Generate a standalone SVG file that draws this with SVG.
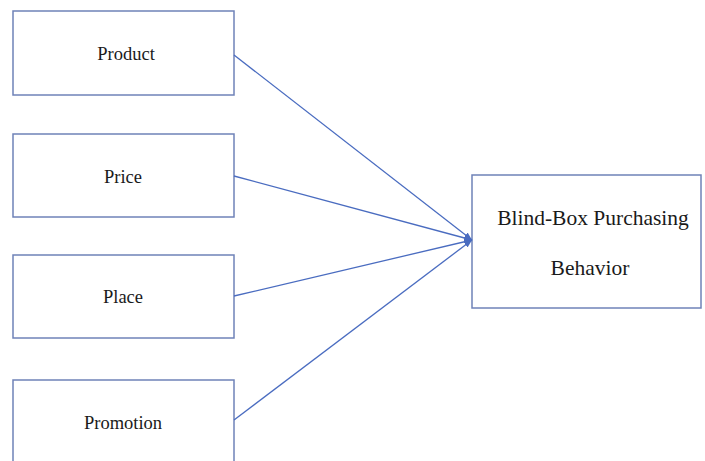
<svg xmlns="http://www.w3.org/2000/svg" width="705" height="461" viewBox="0 0 705 461">
<style>
.box{fill:#fff;stroke:#6f82b8;stroke-width:1.5}
.t{font-family:"Liberation Serif",serif;font-size:18.5px;fill:#1a1a1a;text-anchor:middle}
.tb{font-family:"Liberation Serif",serif;font-size:21.5px;fill:#1a1a1a;text-anchor:middle}
.c{stroke:#4a6cc0;stroke-width:1.3;fill:none;marker-end:url(#ah)}
</style>
<defs>
<marker id="ah" viewBox="0 0 10 10" refX="10" refY="5" markerWidth="8" markerHeight="8" markerUnits="userSpaceOnUse" orient="auto">
<path d="M0,1 L10,5 L0,9 z" fill="#4a6cc0"/>
</marker>
</defs>
<rect width="705" height="461" fill="#fff"/>
<g id="product"><rect class="box" x="13" y="11" width="221" height="84"/><text class="t" x="126" y="60">Product</text></g>
<g id="price"><rect class="box" x="13" y="134" width="221" height="83"/><text class="t" x="123" y="183">Price</text></g>
<g id="place"><rect class="box" x="13" y="255" width="221" height="83"/><text class="t" x="123" y="303">Place</text></g>
<g id="promotion"><rect class="box" x="13" y="380" width="221" height="90"/><text class="t" x="123" y="429">Promotion</text></g>
<g id="behavior"><rect class="box" x="472" y="175" width="229" height="133"/><text class="tb" x="593" y="225">Blind-Box Purchasing</text><text class="tb" x="590" y="275">Behavior</text></g>
<g id="connectors">
<line class="c" x1="234" y1="55" x2="472" y2="240"/>
<line class="c" x1="234" y1="176" x2="472" y2="240"/>
<line class="c" x1="234" y1="296" x2="472" y2="240"/>
<line class="c" x1="234" y1="420" x2="472" y2="240"/>
</g>
</svg>
